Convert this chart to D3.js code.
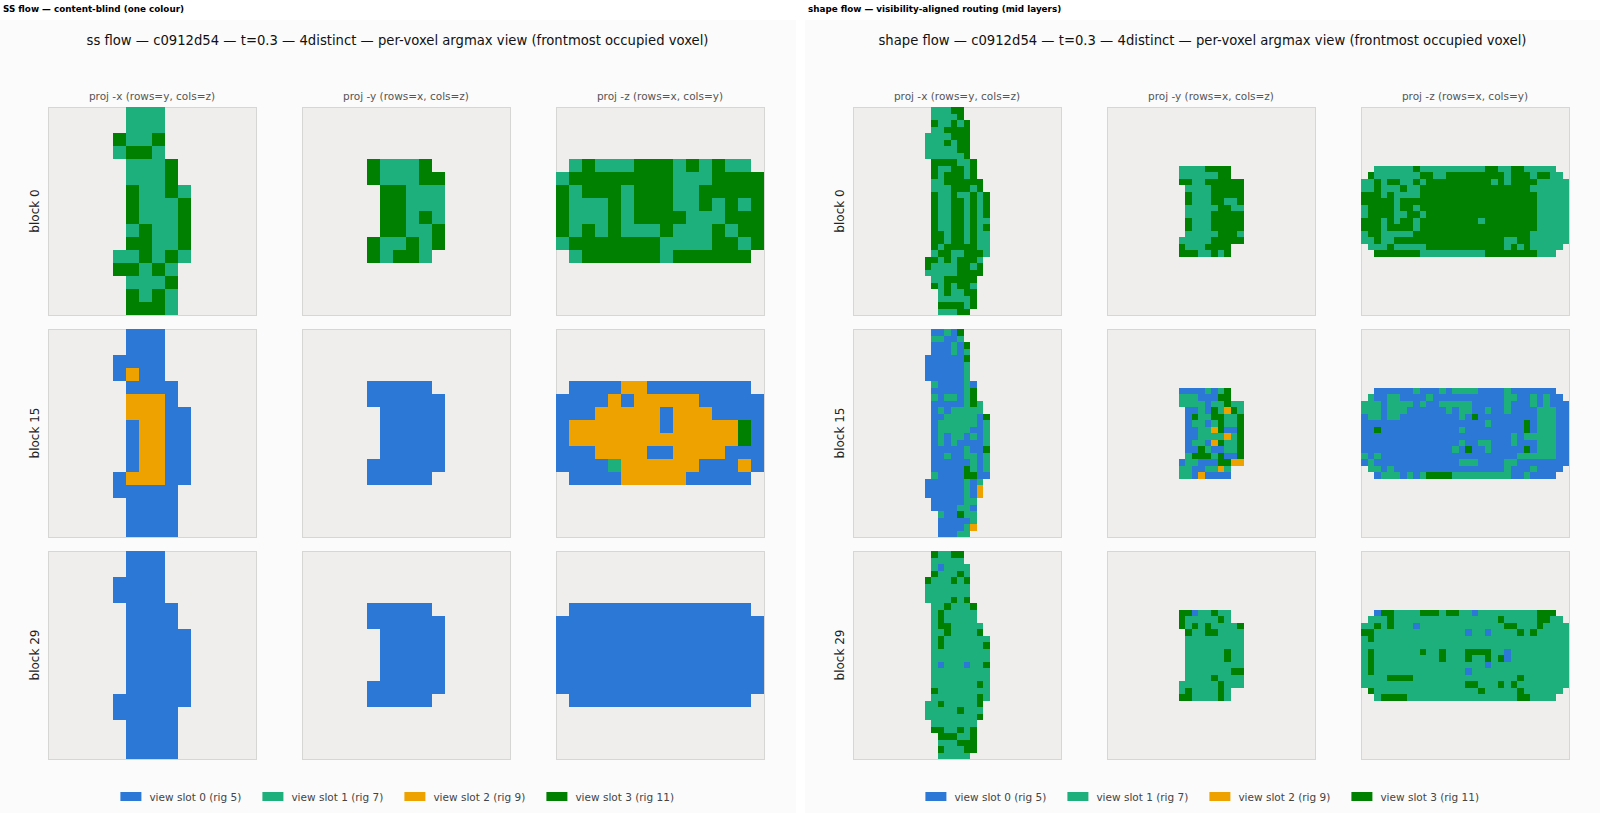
<!DOCTYPE html>
<html>
<head>
<meta charset="utf-8">
<script src="https://cdn.jsdelivr.net/npm/d3@7"></script>
<style>
  html, body { margin: 0; padding: 0; background: #fff; overflow: hidden; }
  text { font-family: "DejaVu Sans", sans-serif; }
</style>
</head>
<body>
<div id="chart"></div>
<script>
// one string per row, one char per voxel: . empty, 0-3 view slot
const ssX0 = ["......111", "......111", ".....3113", ".....1331", "......1113", "......1113", "......31131", "......31113", "......31113", "......13113", "......33113", ".....113131", ".....33131", "......1113", "......3131", "......3331"];
const ssY0 = ["", "", "", "", ".....31113", ".....311133", "......33111", "......33111", "......33131", "......33113", ".....311313", ".....31331"];
const ssZ0 = ["", "", "", "",
  ".13111333131311.",
  "1333333331113333",
  "3133313331133333",
  "3111313331131313",
  "3111313333111333",
  "3131311131113133",
  "1333333311113313",
  ".13333331333333."];

const ssX15 = ["......000", "......000", ".....0000", ".....0200", "......0000", "......2220", "......22200", "......02200", "......02200", "......02200", "......02200", ".....022200", ".....00000", "......0000", "......0000", "......0000"];
const ssY15 = ["", "", "", "", ".....00000", ".....000000", "......00000", "......00000", "......00000", "......00000", ".....000000", ".....00000"];
const ssZ15 = ["", "", "", "",
  ".00002200000000.",
  "0000202222200000",
  "0002222202220000",
  "0222222202222230",
  "0222222222222230",
  "0002222002222000",
  "0000122222200020",
  ".00002222200000."];

const ssX29 = ["......000", "......000", ".....0000", ".....0000", "......0000", "......0000", "......00000", "......00000", "......00000", "......00000", "......00000", ".....000000", ".....00000", "......0000", "......0000", "......0000"];
const ssY29 = ["", "", "", "", ".....00000", ".....000000", "......00000", "......00000", "......00000", "......00000", ".....000000", ".....00000"];
const ssZ29 = ["", "", "", "",
  ".00000000000000.",
  "0000000000000000",
  "0000000000000000",
  "0000000000000000",
  "0000000000000000",
  "0000000000000000",
  "0000000000000000",
  ".00000000000000."];

const shapeX0 = [
  "............11133", "............11113", "............311313", "............113333",
  "...........1111333", "...........1113133", "...........1111133", "...........1111113",
  "............3333113", "............3113313", "............3133313", "............11333333",
  "............11133313", "............311311313", "............311331313", "............311331313",
  "............311331313", "............311331311", "............311331313", "............331331311",
  "............331331311", "............313333311", "............133113331", "...........331313331",
  "...........311113313", "...........111113333", "............1133333", "............3131331",
  ".............131133", ".............111113", ".............333313", ".............11133"];
const shapeY0 = ["", "", "", "", "", "", "", "", "",
  "...........11113333", "...........11111133", "...........3311333333",
  "............111133333", "............311133333", "............311133113", "............111113311",
  "............111133333", "............311133333", "............311133333", "............111113331",
  "...........1111133333", "...........31113333", "...........33311313"];
const shapeZ0 = ["", "", "", "", "", "", "", "", "",
  "..1111113111111111133113311111..",
  ".311111113311333333333133313311.",
  "11313311313333333333131333311111",
  "11311131133333333333333333111111",
  "33313111133333333333333333311111",
  "33333133333333333333333333311111",
  "13333133133333333333333333311111",
  "13333113313333333333333333311111",
  "33313133133333333313333333311111",
  "33313333133333333333333333311111",
  "13311111333333333333333333111111",
  "11311333333333333333331133111111",
  ".111311111333333333333131311111.",
  "..3333333111111111133333333111.."];

const shapeX15 = [
  "............00103", "............11001", "............000103", "............000101",
  "...........0000003", "...........0000001", "...........0000001", "...........0000001",
  "............1000010", "............0000013", "............1011013", "............00000131",
  "............01011111", "............001111103", "............011111101", "............011111001",
  "............010110101", "............010100001", "............000001003", "............001001101",
  "............000000101", "............000003101", "............100003300", "...........000000101",
  "...........000000102", "...........000000102", "............0000011", "............0000110",
  ".............100311", ".............000001", ".............000012", ".............00011"];
const shapeY15 = ["", "", "", "", "", "", "", "", "",
  "...........00001013", "...........11100033", "...........1111011311",
  "............001031231", "............031133113", "............011013113", "............001123003",
  "............001111213", "............011023113", "............003100113", "............133313003",
  "...........0110003322", "...........11001121", "...........11020000"];
const shapeZ15 = ["", "", "", "", "", "", "", "", "",
  "..0000001000101111000010000000..",
  ".100110000100000000000110010100.",
  "11101111010011111000001000101000",
  "11101110000001011001001000011100",
  "01101100000000010300000000011100",
  "00000000000000000001000003011100",
  "00300000000000010000000003011100",
  "00000000000000000000000101111100",
  "00000000000000010011000100011100",
  "00000000000000103001000003011100",
  "10100000000000000000000011111100",
  "01000000000000011100001100000000",
  ".110100000000000000000100010000.",
  "..0111010133331111111110010000.."];

const shapeX29 = [
  "............31133", "............11111", "............101111", "............311131",
  "...........3111313", "...........1111111", "...........1111111", "...........1111313",
  "............1131113", "............1311111", "............1311111", "............13311111",
  "............11311113", "............131111111", "............131111113", "............111111111",
  "............111111111", "............101110113", "............111111111", "............111111111",
  "............111111131", "............311111111", "............111111131", "...........113111113",
  "...........111113111", "...........111111113", "............1111111", "............3311313",
  ".............333113", ".............111333", ".............311133", ".............11111"];
const shapeY29 = ["", "", "", "", "", "", "", "", "",
  "...........33011311", "...........31111131", "...........3131311113",
  "............311331111", "............111111111", "............111111111", "............111111311",
  "............111111311", "............111111111", "............111111133", "............111131111",
  "...........1111113111", "...........13111131", "...........33111131"];
const shapeZ29 = ["", "", "", "", "", "", "", "", "",
  "..0331111333133110111111111333..",
  ".111311111111111111113111113311.",
  "11313111011111111111113311131111",
  "33111111111111110110111131311111",
  "13111111111111111111111111111111",
  "11111111111111111111111111111111",
  "13111111131131113333110111111111",
  "13111111111131113113130111111111",
  "13111111111111111110111111111111",
  "13111111111111110111111111111111",
  "11113333111111111111111131111111",
  "11111111111111113311131311111111",
  ".311111111111111113111113111111.",
  "..1333311111111111111111331111.."];

const blockLabels = ["block 0", "block 15", "block 29"];
const projLabels = ["proj -x (rows=y, cols=z)", "proj -y (rows=x, cols=z)", "proj -z (rows=x, cols=y)"];
const slotLabels = ["view slot 0 (rig 5)", "view slot 1 (rig 7)", "view slot 2 (rig 9)", "view slot 3 (rig 11)"];
const slotColors = ["#2b78d6", "#1db07d", "#eda200", "#008000"];

const figures = [
  {
    header: "SS flow \u2014 content-blind (one colour)",
    title: "ss flow \u2014 c0912d54 \u2014 t=0.3 \u2014 4distinct \u2014 per-voxel argmax view (frontmost occupied voxel)",
    size: 16, left: 0, width: 796,
    grids: [[ssX0, ssY0, ssZ0], [ssX15, ssY15, ssZ15], [ssX29, ssY29, ssZ29]],
  },
  {
    header: "shape flow \u2014 visibility-aligned routing (mid layers)",
    title: "shape flow \u2014 c0912d54 \u2014 t=0.3 \u2014 4distinct \u2014 per-voxel argmax view (frontmost occupied voxel)",
    size: 32, left: 805, width: 795,
    grids: [[shapeX0, shapeY0, shapeZ0], [shapeX15, shapeY15, shapeZ15], [shapeX29, shapeY29, shapeZ29]],
  },
];

const panelSize = 208;
const panelX = [48, 302, 556];
const panelY = [107, 329, 551];

const color = d3.scaleOrdinal().domain(["0", "1", "2", "3"]).range(slotColors);

const svg = d3
  .select("#chart")
  .append("svg")
  .attr("width", 1600)
  .attr("height", 813);

svg.append("rect").attr("width", 1600).attr("height", 813).attr("fill", "#fff");

// Draw one figure (header strip, title, 3x3 panels, legend)
function drawFigure(fig) {
  const g = svg.append("g").attr("transform", `translate(${fig.left},0)`);

  g.append("rect")
    .attr("y", 20)
    .attr("width", fig.width)
    .attr("height", 793)
    .attr("fill", "#fbfbfb");

  g.append("text")
    .attr("x", 3)
    .attr("y", 12)
    .style("font-size", "8.8px")
    .style("font-weight", "bold")
    .attr("fill", "#000")
    .text(fig.header);

  g.append("text")
    .attr("x", 397.5)
    .attr("y", 45)
    .attr("text-anchor", "middle")
    .style("font-size", "13.2px")
    .attr("fill", "#111")
    .text(fig.title);

  const cellScale = d3.scaleBand().domain(d3.range(fig.size)).range([0, panelSize]);

  fig.grids.forEach((row, r) => {
    g.append("text")
      .attr("transform", `translate(39,${panelY[r] + panelSize / 2}) rotate(-90)`)
      .attr("text-anchor", "middle")
      .style("font-size", "12px")
      .attr("fill", "#222")
      .text(blockLabels[r]);

    row.forEach((grid, c) => {
      const panel = g.append("g").attr("transform", `translate(${panelX[c]},${panelY[r]})`);

      if (r === 0) {
        panel.append("text")
          .attr("x", panelSize / 2)
          .attr("y", -7)
          .attr("text-anchor", "middle")
          .style("font-size", "10.5px")
          .attr("fill", "#555")
          .text(projLabels[c]);
      }

      panel.append("rect")
        .attr("width", panelSize)
        .attr("height", panelSize)
        .attr("fill", "#efeeec")
        .attr("stroke", "#d6d6d4")
        .attr("stroke-width", 1)
        .attr("shape-rendering", "crispEdges");

      const cells = [];
      grid.forEach((line, y) => {
        line.split("").forEach((ch, x) => {
          if (ch !== ".") cells.push({ x, y, slot: ch });
        });
      });

      panel.selectAll("rect.cell")
        .data(cells)
        .join("rect")
        .attr("class", "cell")
        .attr("x", (d) => cellScale(d.x))
        .attr("y", (d) => cellScale(d.y))
        .attr("width", cellScale.bandwidth())
        .attr("height", cellScale.bandwidth())
        .attr("fill", (d) => color(d.slot))
        .attr("shape-rendering", "crispEdges");
    });
  });

  // legend
  const legendX = d3.scaleBand().domain(d3.range(4)).range([120.4, 120.4 + 4 * 142]);
  const item = g.selectAll("g.legend")
    .data(slotLabels)
    .join("g")
    .attr("class", "legend")
    .attr("transform", (d, i) => `translate(${legendX(i)},792)`);

  item.append("rect")
    .attr("width", 21)
    .attr("height", 9)
    .attr("fill", (d, i) => slotColors[i]);

  item.append("text")
    .attr("x", 29)
    .attr("y", 9)
    .style("font-size", "10.5px")
    .attr("fill", "#444")
    .text((d) => d);
}

figures.forEach(drawFigure);
</script>
</body>
</html>
